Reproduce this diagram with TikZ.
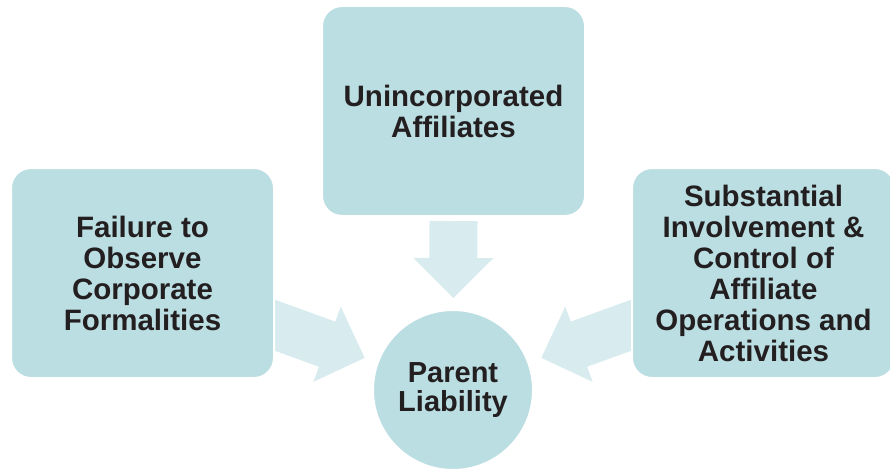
\documentclass[tikz,border=0pt]{standalone}
\usepackage{fontspec}
\setmainfont{Liberation Sans}
\usetikzlibrary{calc,backgrounds}
\definecolor{boxblue}{RGB}{187,222,227}
\definecolor{arrowblue}{RGB}{216,235,238}
\definecolor{inkgrey}{RGB}{35,31,32}
% fat block arrow from #1 to the tip #2
\newcommand{\fatarrow}[2]{%
  \coordinate (neck) at ($(#2)!40pt!(#1)$);
  \fill[arrowblue] ($(#1)!24pt!90:(#2)$) -- ($(neck)!24pt!90:(#2)$) -- ($(neck)!40pt!90:(#2)$) -- (#2)
    -- ($(neck)!40pt!-90:(#2)$) -- ($(neck)!24pt!-90:(#2)$) -- ($(#1)!24pt!-90:(#2)$) -- cycle;
}
\begin{document}
\begin{tikzpicture}[x=1pt, y=1pt,
    every node/.style = {align=center, text=inkgrey, font=\bfseries\fontsize{29.5}{31}\selectfont},
    box/.style = {rectangle, rounded corners=20pt, fill=boxblue, draw=white, line width=2pt,
                  minimum width=263pt, minimum height=210pt},
    hub/.style = {circle, fill=boxblue, draw=white, line width=2pt, minimum size=160pt, inner sep=0pt}
    ]
    \useasboundingbox (0,0) rectangle (890,472);
    \node[box] (ua) at (453.5,361) {Unincorporated\\Affiliates};
    \node[box] (fo) at (142.5,199) {Failure to\\Observe\\Corporate\\Formalities};
    \node[box] (co) at (763.5,199) {Substantial\\Involvement \&\\Control of\\Affiliate\\Operations and\\Activities};
    \node[hub, font=\bfseries\fontsize{29}{29}\selectfont] (pl) at (453,82) {Parent\\Liability};
    % arrow ends
    \coordinate (ua-s) at ([yshift=-4pt]ua.south);
    \coordinate (fo-s) at ([shift={(-20pt,-45pt)}]fo.east);
    \coordinate (co-s) at ([shift={(20pt,-45pt)}]co.west);
    \coordinate (ua-t) at ($(pl.center)!92pt!(ua-s)$);
    \coordinate (fo-t) at ($(pl.center)!94pt!(fo-s)$);
    \coordinate (co-t) at ($(pl.center)!94pt!(co-s)$);
    \begin{scope}[on background layer]
        \fatarrow{ua-s}{ua-t}
        \fatarrow{fo-s}{fo-t}
        \fatarrow{co-s}{co-t}
    \end{scope}
\end{tikzpicture}
\end{document}
